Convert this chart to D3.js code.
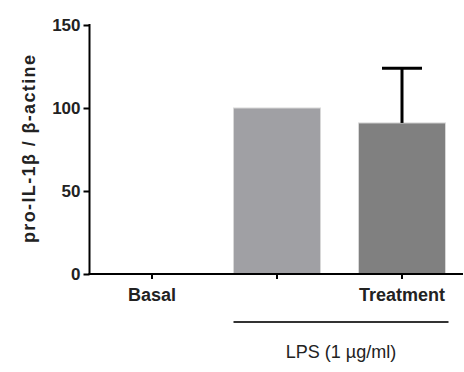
<!DOCTYPE html>
<html>
<head>
<meta charset="utf-8">
<script src="https://cdn.jsdelivr.net/npm/d3@7"></script>
<style>
  body { margin: 0; background: #fff; }
  svg { display: block; }
  text { font-family: Arial, "Liberation Sans", sans-serif; }
</style>
</head>
<body>
<div class="container"></div>
<script>
var w = 464;
var h = 372;

// groups on the x axis
var categories = ["Basal", "LPS", "Treatment"];
var tickLabels = ["Basal", "", "Treatment"];
// mean of pro-IL-1b / b-actine
var values = [0, 100, 91];
// upper error (SEM)
var errors = [0, 0, 33];
var barColors = ["#ffffff", "#a0a0a4", "#808080"];
var yTicks = [0, 50, 100, 150];

var marginLeft = 89.5;
var marginTop = 25;
var baseY = 274;

var svg = d3
  .select(".container")
  .append("svg")
  .attr("width", w)
  .attr("height", h);

var xScale = d3
  .scaleBand()
  .domain(categories)
  .range([marginLeft, 464.5])
  .paddingInner(0.304)
  .paddingOuter(0.152);

var yScale = d3.scaleLinear().domain([0, 150]).range([baseY, marginTop]);

// bars
svg
  .selectAll("rect.bar")
  .data(values)
  .enter()
  .append("rect")
  .attr("class", "bar")
  .attr("x", (d, i) => xScale(categories[i]))
  .attr("y", (d) => yScale(d))
  .attr("width", xScale.bandwidth())
  .attr("height", (d) => yScale(0) - yScale(d))
  .attr("fill", (d, i) => barColors[i])
  .attr("stroke", (d, i) => (d > 0 ? "#d8d8d8" : "none"))
  .attr("stroke-width", 1);

// error bars (upper only)
var errG = svg.append("g");
values.forEach(function (v, i) {
  if (!errors[i]) return;
  var cx = xScale(categories[i]) + xScale.bandwidth() / 2;
  errG
    .append("line")
    .attr("x1", cx)
    .attr("x2", cx)
    .attr("y1", yScale(v))
    .attr("y2", yScale(v + errors[i]))
    .attr("stroke", "#000")
    .attr("stroke-width", 3);
  errG
    .append("line")
    .attr("x1", cx - 20)
    .attr("x2", cx + 20)
    .attr("y1", yScale(v + errors[i]))
    .attr("y2", yScale(v + errors[i]))
    .attr("stroke", "#000")
    .attr("stroke-width", 3);
});

// y axis
var y_axis = d3.axisLeft(yScale).tickValues(yTicks).tickSize(6).tickSizeOuter(0);
var yG = svg
  .append("g")
  .attr("transform", "translate(" + marginLeft + ",0)")
  .call(y_axis);
yG.selectAll("path, line").attr("stroke", "#000").attr("stroke-width", 2);
yG.select(".domain").attr("d", "M0," + (marginTop - 1) + "V" + (baseY + 1));
yG.selectAll("text")
  .attr("font-size", 17)
  .attr("font-weight", "bold")
  .attr("fill", "#222")
  .attr("x", -9)
  .attr("dy", "0.35em");

// x axis
var x_axis = d3
  .axisBottom(xScale)
  .tickFormat((d, i) => tickLabels[i])
  .tickSize(5)
  .tickSizeOuter(0);
var xG = svg
  .append("g")
  .attr("transform", "translate(0," + baseY + ")")
  .call(x_axis);
xG.selectAll("path, line").attr("stroke", "#000").attr("stroke-width", 2);
xG.select(".domain").attr("d", "M" + (marginLeft - 1) + ",0H463");
xG.selectAll("text")
  .attr("font-size", 18)
  .attr("font-weight", "bold")
  .attr("fill", "#222")
  .attr("y", 14)
  .attr("dy", "0.71em");

// y label
svg
  .append("text")
  .attr("transform", "translate(35,149) rotate(-90)")
  .attr("text-anchor", "middle")
  .attr("font-size", 18)
  .attr("font-weight", "bold")
  .attr("fill", "#222")
  .attr("textLength", 188)
  .attr("lengthAdjust", "spacing")
  .text("pro-IL-1\u03b2 / \u03b2-actine");

// LPS bracket
var lpsX1 = xScale("LPS");
var lpsX2 = xScale("Treatment") + xScale.bandwidth() + 3;
svg
  .append("line")
  .attr("x1", lpsX1)
  .attr("x2", lpsX2)
  .attr("y1", 322)
  .attr("y2", 322)
  .attr("stroke", "#333")
  .attr("stroke-width", 2);

svg
  .append("text")
  .attr("x", (lpsX1 + lpsX2) / 2)
  .attr("y", 358)
  .attr("text-anchor", "middle")
  .attr("font-size", 18)
  .attr("fill", "#222")
  .text("LPS (1 \u00b5g/ml)");
</script>
</body>
</html>
